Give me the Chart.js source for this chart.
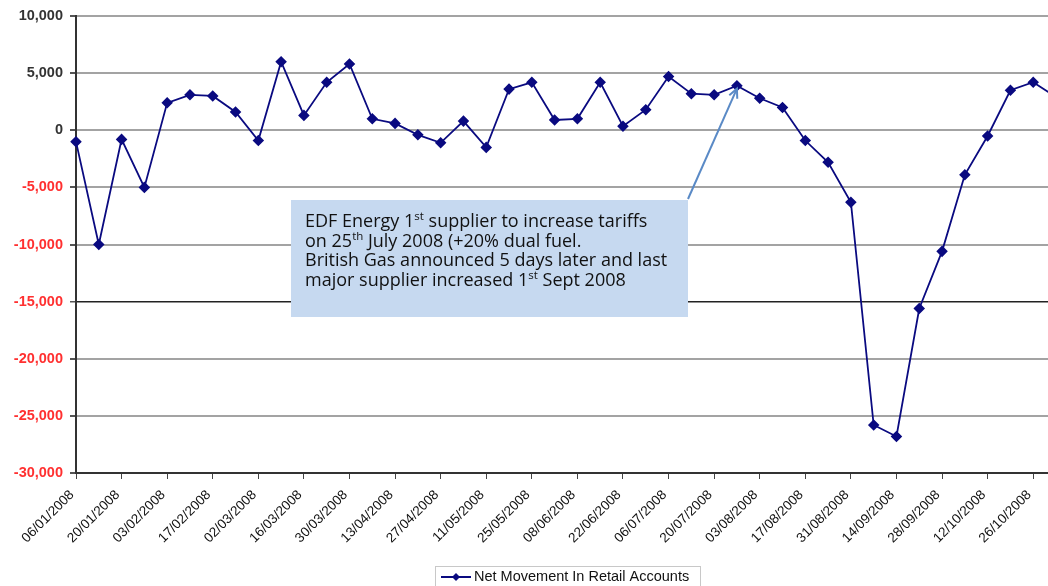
<!DOCTYPE html>
<html>
<head>
<meta charset="utf-8">
<script src="https://cdn.jsdelivr.net/npm/chart.js@4/dist/chart.umd.min.js"></script>
<style>
  html, body { margin: 0; padding: 0; background: #fff; overflow: hidden; width: 1048px; height: 586px; }
  #wrap { position: absolute; left: 0; top: 0; width: 1134px; height: 586px; }
</style>
</head>
<body>
<div id="wrap"><canvas id="chart"></canvas></div>
<script>
// Week-commencing dates (weekly series, labelled every second week)
const weeks = [
  '06/01/2008', '13/01/2008', '20/01/2008', '27/01/2008', '03/02/2008', '10/02/2008',
  '17/02/2008', '24/02/2008', '02/03/2008', '09/03/2008', '16/03/2008', '23/03/2008',
  '30/03/2008', '06/04/2008', '13/04/2008', '20/04/2008', '27/04/2008', '04/05/2008',
  '11/05/2008', '18/05/2008', '25/05/2008', '01/06/2008', '08/06/2008', '15/06/2008',
  '22/06/2008', '29/06/2008', '06/07/2008', '13/07/2008', '20/07/2008', '27/07/2008',
  '03/08/2008', '10/08/2008', '17/08/2008', '24/08/2008', '31/08/2008', '07/09/2008',
  '14/09/2008', '21/09/2008', '28/09/2008', '05/10/2008', '12/10/2008', '19/10/2008',
  '26/10/2008', '02/11/2008'
];

// Net movement in retail accounts per week
const netMovement = [
  -1000, -10000, -800, -5000, 2400, 3100, 3000, 1600, -900, 6000, 1300, 4200,
  5800, 1000, 600, -400, -1100, 800, -1500, 3600, 4200, 900, 1000, 4200,
  350, 1800, 4700, 3200, 3100, 3900, 2800, 2000, -900, -2800, -6300, -25800,
  -26800, -15600, -10600, -3900, -500, 3500, 4200, 2900
];

const seriesName = 'Net Movement In Retail Accounts';
const yTicks = [10000, 5000, 0, -5000, -10000, -15000, -20000, -25000, -30000];

// Callout text, with superscript suffixes marked as separate runs
const calloutLines = [
  [['EDF Energy 1', false], ['st', true], [' supplier to increase tariffs', false]],
  [['on 25', false], ['th', true], [' July 2008 (+20% dual fuel.', false]],
  [['British Gas announced 5 days later and last', false]],
  [['major supplier increased 1', false], ['st', true], [' Sept 2008', false]]
];
const calloutWeek = '27/07/2008';

const lineColor = '#0a0a80';
const fontFamily = '"Liberation Sans", Arial, sans-serif';

const calloutPlugin = {
  id: 'callout',
  afterDatasetsDraw(chart) {
    const ctx = chart.ctx;
    const x = chart.scales.x, y = chart.scales.y;
    const idx = weeks.indexOf(calloutWeek);
    const tipX = x.getPixelForValue(idx);
    const tipY = y.getPixelForValue(netMovement[idx]) + 3;

    // box
    const bx = 291, by = 200, bw = 397, bh = 117;
    ctx.save();
    ctx.fillStyle = '#c6d9f0';
    ctx.fillRect(bx, by, bw, bh);

    // text
    ctx.fillStyle = '#111';
    ctx.textBaseline = 'alphabetic';
    const main = '18px "Open Sans", "Noto Sans", sans-serif';
    const sup = '11.5px "Open Sans", "Noto Sans", sans-serif';
    calloutLines.forEach((runs, i) => {
      let cx = bx + 14;
      const base = by + 27 + i * 19.6;
      runs.forEach(([t, isSup]) => {
        ctx.font = isSup ? sup : main;
        ctx.fillText(t, cx, isSup ? base - 7 : base);
        cx += ctx.measureText(t).width;
      });
    });

    // arrow from box corner to the data point
    const sx = bx + bw, sy = by - 1;
    ctx.strokeStyle = '#5a8ac6';
    ctx.lineWidth = 2;
    ctx.beginPath();
    ctx.moveTo(sx, sy);
    ctx.lineTo(tipX, tipY);
    ctx.stroke();
    const ang = Math.atan2(tipY - sy, tipX - sx);
    const ah = 10;
    ctx.beginPath();
    ctx.moveTo(tipX - ah * Math.cos(ang - 0.45), tipY - ah * Math.sin(ang - 0.45));
    ctx.lineTo(tipX, tipY);
    ctx.lineTo(tipX - ah * Math.cos(ang + 0.45), tipY - ah * Math.sin(ang + 0.45));
    ctx.stroke();
    ctx.restore();
  }
};

const legendPlugin = {
  id: 'boxLegend',
  afterDraw(chart) {
    const ctx = chart.ctx;
    ctx.save();
    ctx.strokeStyle = '#c8c8c8';
    ctx.lineWidth = 1;
    ctx.strokeRect(435.5, 566.5, 265, 30);
    ctx.strokeStyle = lineColor;
    ctx.lineWidth = 2;
    ctx.beginPath();
    ctx.moveTo(441, 577);
    ctx.lineTo(471, 577);
    ctx.stroke();
    ctx.fillStyle = lineColor;
    ctx.beginPath();
    ctx.moveTo(456, 573); ctx.lineTo(460, 577); ctx.lineTo(456, 581); ctx.lineTo(452, 577);
    ctx.closePath();
    ctx.fill();
    ctx.fillStyle = '#111';
    ctx.font = '14.5px ' + fontFamily;
    ctx.textBaseline = 'middle';
    ctx.fillText(seriesName, 474, 577);
    ctx.restore();
  }
};

new Chart(document.getElementById('chart'), {
  type: 'line',
  data: {
    labels: weeks,
    datasets: [{
      label: seriesName,
      data: netMovement,
      borderColor: lineColor,
      backgroundColor: lineColor,
      borderWidth: 1.8,
      pointStyle: 'rectRot',
      pointRadius: 4.5,
      pointHoverRadius: 4.5,
      tension: 0
    }]
  },
  options: {
    responsive: true,
    maintainAspectRatio: false,
    animation: false,
    events: [],
    layout: { padding: { left: 0, top: 16, right: 78, bottom: 0 } },
    plugins: { legend: { display: false }, tooltip: { enabled: false } },
    scales: {
      x: {
        offset: false,
        afterFit(scale) { scale.height = 113; },
        border: { color: '#333', width: 2 },
        grid: {
          drawOnChartArea: false,
          drawTicks: true,
          tickLength: 6,
          tickColor: c => (c.index % 2 === 0 ? '#444' : 'rgba(0,0,0,0)')
        },
        ticks: {
          autoSkip: false,
          minRotation: 45,
          maxRotation: 45,
          padding: 8,
          labelOffset: -4,
          color: '#111',
          font: { family: fontFamily, size: 13.5 },
          callback: (v, i) => (i % 2 === 0 ? weeks[i] : '')
        }
      },
      y: {
        min: -30000,
        max: 10000,
        afterFit(scale) { scale.width = 76; },
        afterBuildTicks(scale) { scale.ticks = yTicks.map(v => ({ value: v })); },
        border: { color: '#333', width: 2 },
        grid: {
          color: c => (c.tick && c.tick.value === -15000 ? '#222' : '#a3a3a3'),
          lineWidth: c => (c.tick && c.tick.value === -15000 ? 1.5 : 2),
          tickLength: 6,
          tickColor: '#555'
        },
        ticks: {
          padding: 7,
          color: c => (c.tick && c.tick.value < 0 ? '#ff3030' : '#333'),
          font: { family: fontFamily, size: 14.5, weight: 'bold' },
          callback: v => v.toLocaleString('en-GB')
        }
      }
    }
  },
  plugins: [calloutPlugin, legendPlugin]
});
</script>
</body>
</html>
